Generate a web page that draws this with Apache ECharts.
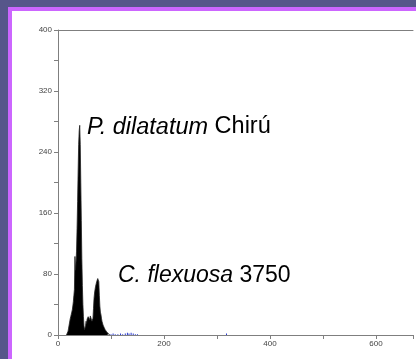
<!DOCTYPE html>
<html>
<head>
<meta charset="utf-8">
<script src="https://cdn.jsdelivr.net/npm/echarts@6/dist/echarts.min.js"></script>
<style>
  html, body { margin: 0; padding: 0; }
  body { width: 416px; height: 359px; background: #56568a; position: relative; overflow: hidden; }
  #frame { position: absolute; left: 8px; top: 7px; right: 0; bottom: 0; background: #cc66ff; }
  #inner { position: absolute; left: 12px; top: 11px; right: 0; bottom: 0; background: #ffffff; }
  #histogram { position: absolute; left: 0; top: 0; width: 416px; height: 359px; }
</style>
</head>
<body>
<div id="frame"></div>
<div id="inner"></div>
<div id="histogram"></div>
<script>
// fluorescence channel (x) and nuclei counts (y)
const channels = [
  16, 17, 18, 19, 20, 21, 22, 23, 24, 25, 26, 27, 28, 29, 30, 31, 32, 33, 34, 35,
  36, 37, 38, 39, 40, 41, 42, 43, 44, 45, 46, 47, 48, 49, 50, 51, 52, 53, 54, 55,
  56, 57, 58, 59, 60, 61, 62, 63, 64, 65, 66, 67, 68, 69, 70, 71, 72, 73, 74, 75,
  76, 77, 78, 79, 80, 81, 82, 83, 84, 85, 86, 87, 88, 89, 90, 91, 92, 93, 94, 95,
  96, 97, 98
];
const counts = [
  0, 0, 2, 5, 9, 13, 17, 21, 24, 27, 30, 33, 38, 44, 52, 60, 103, 85, 95, 110,
  140, 175, 215, 250, 268, 275, 250, 200, 150, 100, 65, 40, 24, 12, 7, 6, 12, 18, 15, 21,
  19, 24, 22, 26, 20, 25, 27, 23, 18, 17, 22, 35, 48, 55, 60, 64, 66, 70, 72, 74,
  76, 70, 52, 38, 30, 27, 22, 18, 16, 13, 12, 10, 9, 7, 6, 5, 4, 4, 3, 2,
  1, 1, 0
];
// scattered debris events near the baseline (drawn in blue)
const debrisChannels = [100, 104, 108, 113, 118, 122, 127, 131, 134, 138, 142, 146, 150, 318];
const debrisCounts = [1, 2, 1, 1, 2, 1, 2, 3, 2, 3, 2, 1, 1, 2];

const yTicks = [0, 80, 160, 240, 320, 400];
const xTicks = [0, 200, 400, 600];

const myChart = echarts.init(document.getElementById('histogram'), null, { renderer: 'canvas' });

const axisGray = '#7f7f7f';
const labelStyle = { color: '#444', fontSize: 8, fontFamily: 'Liberation Sans, Arial, sans-serif' };
const textFont = 'Liberation Sans, Arial, sans-serif';

const option = {
  animation: false,
  backgroundColor: 'transparent',
  grid: { left: 58, top: 30, right: -5, bottom: 24 },
  xAxis: [
    {
      type: 'value',
      min: 0,
      max: 670,
      interval: 100,
      axisLine: { show: true, lineStyle: { color: axisGray, width: 1 } },
      axisTick: { show: true, length: 4, lineStyle: { color: axisGray } },
      axisLabel: Object.assign({
        margin: 5,
        formatter: (v) => (xTicks.indexOf(v) >= 0 ? String(v) : ''),
      }, labelStyle),
      splitLine: { show: false },
    },
    {
      type: 'value',
      position: 'top',
      min: 0,
      max: 670,
      axisLine: { show: true, onZero: false, lineStyle: { color: axisGray, width: 1 } },
      axisTick: { show: false },
      axisLabel: { show: false },
      splitLine: { show: false },
    },
  ],
  yAxis: {
    type: 'value',
    min: 0,
    max: 400,
    interval: 40,
    axisLine: { show: true, lineStyle: { color: axisGray, width: 1 } },
    axisTick: { show: true, length: 4, lineStyle: { color: axisGray } },
    axisLabel: Object.assign({
      margin: 6,
      formatter: (v) => (yTicks.indexOf(v) >= 0 ? String(v) : ''),
    }, labelStyle),
    splitLine: { show: false },
  },
  series: [
    {
      name: 'histogram',
      type: 'line',
      xAxisIndex: 0,
      showSymbol: false,
      symbol: 'none',
      lineStyle: { color: '#222', width: 0.8 },
      areaStyle: { color: '#000', opacity: 1 },
      data: channels.map((c, i) => [c, counts[i]]),
      z: 3,
    },
    {
      name: 'debris',
      type: 'bar',
      xAxisIndex: 0,
      barWidth: 1,
      itemStyle: { color: '#2a3bd0' },
      data: debrisChannels.map((c, i) => [c, debrisCounts[i]]),
      z: 4,
    },
  ],
  graphic: [
    {
      type: 'text',
      left: 87,
      top: 115,
      style: {
        text: '{i|P. dilatatum} {n|Chirú}',
        rich: {
          i: { fontStyle: 'italic', fontSize: 23.5, fontFamily: textFont, fill: '#000' },
          n: { fontSize: 23.5, fontFamily: textFont, fill: '#000' },
        },
        fontSize: 23.5,
        fontFamily: textFont,
      },
    },
    {
      type: 'text',
      left: 118,
      top: 264,
      style: {
        text: '{i|C. flexuosa} {n|3750}',
        rich: {
          i: { fontStyle: 'italic', fontSize: 23, fontFamily: textFont, fill: '#000' },
          n: { fontSize: 23, fontFamily: textFont, fill: '#000' },
        },
        fontSize: 23,
        fontFamily: textFont,
      },
    },
  ],
};

myChart.setOption(option);
</script>
</body>
</html>
